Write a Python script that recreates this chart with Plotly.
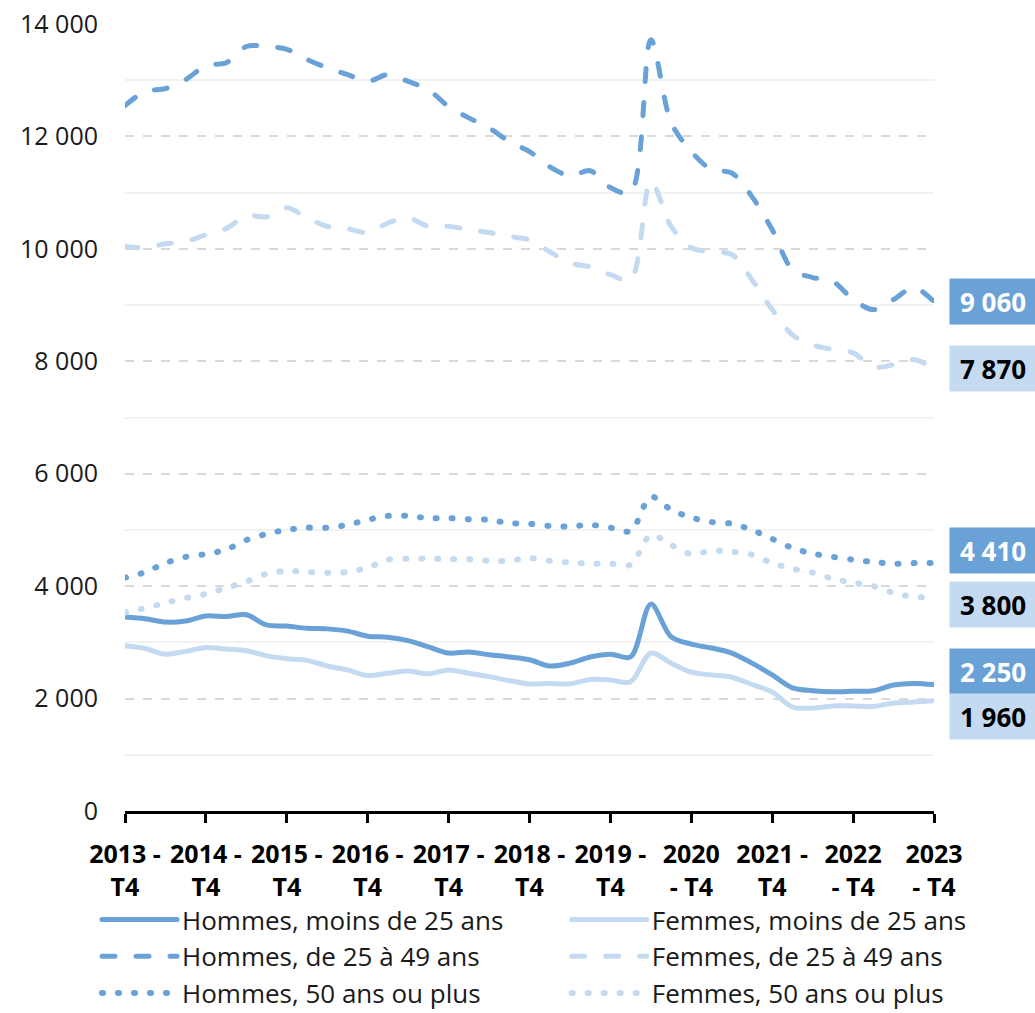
import plotly.graph_objects as go

# ---------------- data ----------------
quarters = list(range(41))  # 2013 T4 ... 2023 T4
tick_positions = list(range(0, 41, 4))
tick_labels = ["2013 -<br>T4", "2014 -<br>T4", "2015 -<br>T4", "2016 -<br>T4",
               "2017 -<br>T4", "2018 -<br>T4", "2019 -<br>T4", "2020<br>- T4",
               "2021 -<br>T4", "2022<br>- T4", "2023<br>- T4"]

hommes_moins25 = [3450, 3420, 3360, 3380, 3470, 3460, 3490, 3310, 3290, 3250, 3240,
                  3200, 3110, 3090, 3030, 2920, 2810, 2830, 2780, 2740, 2690, 2580,
                  2630, 2740, 2790, 2740, 3680, 3100, 2970, 2900, 2810, 2630, 2420,
                  2190, 2140, 2120, 2130, 2140, 2240, 2270, 2250]
femmes_moins25 = [2940, 2890, 2790, 2840, 2910, 2880, 2850, 2760, 2710, 2680, 2580,
                  2510, 2410, 2450, 2490, 2440, 2510, 2450, 2390, 2320, 2260, 2270,
                  2260, 2340, 2330, 2300, 2810, 2630, 2470, 2420, 2380, 2250, 2120,
                  1850, 1830, 1870, 1870, 1860, 1920, 1940, 1960]
hommes_25_49 = [12550, 12800, 12850, 13010, 13260, 13310, 13600, 13600, 13550, 13370,
                13220, 13100, 12980, 13100, 12980, 12830, 12530, 12330, 12150, 11910,
                11730, 11460, 11300, 11390, 11090, 11000, 13720, 12250, 11730, 11410,
                11350, 10930, 10340, 9630, 9490, 9420, 9100, 8920, 9100, 9310, 9060]
femmes_25_49 = [10040, 10020, 10090, 10130, 10250, 10360, 10590, 10570, 10730, 10550,
                10400, 10360, 10290, 10460, 10550, 10400, 10400, 10340, 10290, 10220,
                10160, 9950, 9750, 9680, 9540, 9450, 11200, 10400, 10020, 9950,
                9900, 9450, 8920, 8470, 8290, 8210, 8150, 7900, 7940, 8030, 7870]
hommes_50plus = [4150, 4250, 4410, 4520, 4570, 4650, 4820, 4930, 5000, 5040, 5040,
                 5090, 5180, 5250, 5250, 5210, 5210, 5190, 5180, 5120, 5110, 5070,
                 5060, 5090, 5040, 4980, 5590, 5360, 5220, 5140, 5110, 5000, 4840,
                 4680, 4580, 4520, 4470, 4430, 4400, 4410, 4410]
femmes_50plus = [3530, 3610, 3700, 3790, 3860, 3970, 4080, 4220, 4270, 4250, 4240,
                 4250, 4330, 4470, 4490, 4490, 4480, 4480, 4450, 4450, 4500, 4450,
                 4420, 4400, 4400, 4380, 4910, 4730, 4570, 4630, 4610, 4560, 4410,
                 4310, 4240, 4130, 4060, 4000, 3880, 3810, 3800]

series_names = ["Hommes, moins de 25 ans", "Femmes, moins de 25 ans",
                "Hommes, de 25 à 49 ans", "Femmes, de 25 à 49 ans",
                "Hommes, 50 ans ou plus", "Femmes, 50 ans ou plus"]

# ---------------- style ----------------
DARK = "#6aa2d8"
LIGHT = "#c4daf0"
FONT = "Open Sans"

series = [
    (series_names[0], hommes_moins25, DARK, "solid", "legend", 5),
    (series_names[1], femmes_moins25, LIGHT, "solid", "legend2", 5),
    (series_names[2], hommes_25_49, DARK, "13px,21px", "legend", 5),
    (series_names[3], femmes_25_49, LIGHT, "13px,21px", "legend2", 5),
    (series_names[4], hommes_50plus, DARK, "1px,15px", "legend", 6),
    (series_names[5], femmes_50plus, LIGHT, "1px,15px", "legend2", 6),
]

fig = go.Figure()
for name, vals, col, dash, leg, w in series:
    fig.add_trace(go.Scatter(
        x=quarters, y=vals, name=name, mode="lines",
        line=dict(color=col, width=w, dash=dash, shape="spline", smoothing=0.9),
        legend=leg, hoverinfo="skip",
    ))

# end-of-line value labels (pixel nudges to avoid overlaps)
label_shift = {series_names[2]: 0, series_names[3]: 0,
               series_names[4]: 13, series_names[5]: -7,
               series_names[0]: 13, series_names[1]: -16}
for name, vals, col, dash, leg, w in series:
    v = vals[-1]
    txt = f"{v:,}".replace(",", " ")
    fig.add_annotation(
        x=1.0185, xref="paper", xanchor="left",
        y=v, yref="y", yanchor="middle", yshift=label_shift[name],
        text=f"<b>{txt}</b>", showarrow=False,
        font=dict(family=FONT, size=26, color="white" if col == DARK else "black"),
        bgcolor=col, width=86, height=45, align="center", borderpad=0,
    )

legend_common = dict(y=-0.108, yanchor="top", orientation="v", itemwidth=75,
                     font=dict(size=26, family=FONT, color="#1a1a1a"),
                     bgcolor="rgba(0,0,0,0)", tracegroupgap=0)

fig.update_layout(
    width=1035, height=1013,
    margin=dict(l=125, r=101, t=24, b=202, autoexpand=False),
    paper_bgcolor="white", plot_bgcolor="white",
    font=dict(family=FONT, size=26, color="black"),
    separators=", ",
    showlegend=True,
    legend=dict(x=-0.0346, xanchor="left", **legend_common),
    legend2=dict(x=0.546, xanchor="left", **legend_common),
)

fig.update_xaxes(
    range=[0, 40], tickmode="array", tickvals=tick_positions, ticktext=tick_labels,
    showgrid=False, zeroline=False, showline=True, linecolor="black", linewidth=3,
    ticks="outside", ticklen=9, tickwidth=2.5, tickcolor="black",
    tickfont=dict(family=FONT, size=25, color="black", weight="bold"),
    ticklabelstandoff=10, automargin=False,
)
fig.update_yaxes(
    range=[0, 14000], dtick=2000, tickformat=",d",
    showgrid=True, gridcolor="#d9d9d9", griddash="dash", gridwidth=1.5,
    zeroline=False, showline=False, ticks="",
    tickfont=dict(family=FONT, size=25, color="#1a1a1a"),
    ticklabelstandoff=26, automargin=False,
    minor=dict(dtick=1000, showgrid=True, gridcolor="#f2f2f2", griddash="solid", gridwidth=1.5),
)

post_js = """
document.documentElement.style.margin = '0';
document.body.style.margin = '0';
document.body.style.overflow = 'hidden';
var gd = document.getElementById('{plot_id}');
gd.querySelectorAll('path.js-line').forEach(function(p){
  p.style.strokeLinecap = 'round';
});
"""

fig.write_html("out.html", post_script=post_js, config={"displayModeBar": False})
